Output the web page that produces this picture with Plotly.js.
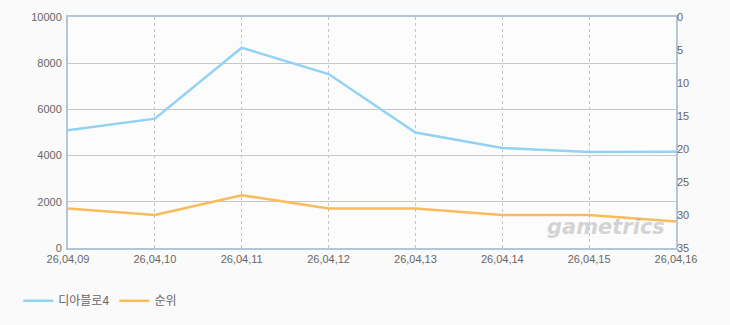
<!DOCTYPE html>
<html><head><meta charset="utf-8">
<script src="https://cdn.plot.ly/plotly-3.0.1.min.js"></script>
<style>body{margin:0;background:#fafafa;}#c{width:730px;height:325px;}</style>
</head><body><div id="c"></div>
<script>
const dates = ["26,04,09","26,04,10","26,04,11","26,04,12","26,04,13","26,04,14","26,04,15","26,04,16"];
const users = [5100, 5600, 8670, 7530, 5000, 4330, 4160, 4170];
const rank = [29, 30, 27, 29, 29, 30, 30, 31];
const seriesNames = ["디아블로4", "순위"];

const tickFont = {family: "Liberation Sans, Arial, sans-serif", size: 11, color: "#666"};
const traces = [
  {x: dates, y: users, name: seriesNames[0], type: "scatter", mode: "lines",
   line: {color: "#92d2f2", width: 2.5}, yaxis: "y"},
  {x: dates, y: rank, name: seriesNames[1], type: "scatter", mode: "lines",
   line: {color: "#f9bb5c", width: 2.5}, yaxis: "y2"}
];
const layout = {
  width: 730, height: 325,
  margin: {l: 68, r: 54, t: 17, b: 77},
  paper_bgcolor: "#fafafa", plot_bgcolor: "#fcfcfc",
  showlegend: true,
  legend: {orientation: "h", xref: "container", yref: "container", x: 0.025, y: 0.075,
           xanchor: "left", yanchor: "middle",
           font: {family: "Noto Sans CJK KR, sans-serif", size: 12, color: "#666"},
           bgcolor: "rgba(0,0,0,0)", itemwidth: 30},
  xaxis: {type: "category", range: [0, 7], showgrid: true, gridcolor: "#c4c4c4", griddash: "3px,3px", gridwidth: 1,
          showline: true, mirror: true, linecolor: "#b3c5d8", linewidth: 2, ticks: "", tickfont: tickFont,
          zeroline: false, fixedrange: true},
  yaxis: {range: [0, 10000], dtick: 2000, tickformat: "d", showgrid: true, gridcolor: "#c8c8c8", gridwidth: 1,
          showline: true, mirror: true, linecolor: "#b3c5d8", linewidth: 2, ticks: "", tickfont: tickFont,
          zeroline: false, ticklabelstandoff: 2},
  yaxis2: {overlaying: "y", side: "right", range: [35, 0], dtick: 5, showgrid: false, zeroline: false,
           showline: false, ticks: "", tickfont: tickFont},
  annotations: [{xref: "paper", yref: "paper", x: 0.985, y: 0.09, xanchor: "right", yanchor: "middle",
                 text: "<b><i>gametrics</i></b>", showarrow: false,
                 font: {family: "DejaVu Sans, sans-serif", size: 21, color: "rgba(170,170,170,0.5)"}}]
};
Plotly.newPlot("c", traces, layout, {displayModeBar: false, staticPlot: true});
</script></body></html>
